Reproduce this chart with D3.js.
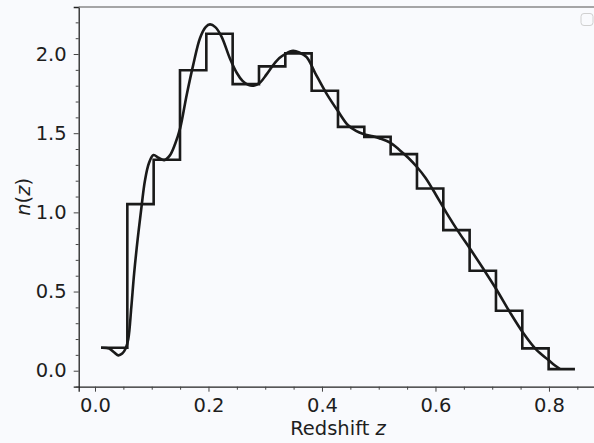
<!DOCTYPE html>
<html>
<head>
<meta charset="utf-8">
<script src="https://cdn.jsdelivr.net/npm/d3@7"></script>
<style>
  body { margin: 0; background: #f9fafd; }
  svg { display: block; font-family: "DejaVu Sans", sans-serif; }
</style>
</head>
<body>
<div id="chart"></div>
<script>
// Histogram bin edges and heights (step outline)
var binEdges = [0.0106, 0.057, 0.1034, 0.1498, 0.1962, 0.2426, 0.289, 0.3354, 0.3818,
                0.4282, 0.4746, 0.521, 0.5674, 0.6138, 0.6602, 0.7066, 0.753, 0.7994, 0.8458];
var binHeights = [0.145, 1.052, 1.332, 1.898, 2.128, 1.81, 1.922, 2.004, 1.768,
                  1.54, 1.477, 1.368, 1.151, 0.888, 0.631, 0.379, 0.141, 0.01];

// Smooth n(z) curve
var curveZ = [0.0106, 0.025, 0.033, 0.041, 0.048, 0.054, 0.0587, 0.064, 0.069, 0.0755,
              0.0823, 0.088, 0.095, 0.103, 0.112, 0.122, 0.132, 0.141, 0.15, 0.1615,
              0.173, 0.185, 0.195, 0.2026, 0.212, 0.223, 0.238, 0.25, 0.26, 0.27,
              0.279, 0.291, 0.302, 0.314, 0.325, 0.335, 0.349, 0.36, 0.373, 0.388,
              0.408, 0.429, 0.446, 0.46, 0.473, 0.49, 0.502, 0.52, 0.537, 0.552,
              0.567, 0.582, 0.596, 0.62, 0.64, 0.661, 0.684, 0.708, 0.731, 0.755,
              0.778, 0.799, 0.81, 0.819];
var curveN = [0.145, 0.14, 0.118, 0.097, 0.108, 0.14, 0.20, 0.40, 0.615, 0.84,
              1.045, 1.2, 1.31, 1.362, 1.345, 1.33, 1.36, 1.43, 1.53, 1.74,
              1.93, 2.10, 2.17, 2.187, 2.17, 2.11, 1.97, 1.88, 1.83, 1.805,
              1.80, 1.82, 1.87, 1.93, 1.975, 2.00, 2.02, 2.01, 1.98, 1.88,
              1.75, 1.635, 1.55, 1.515, 1.495, 1.48, 1.467, 1.44, 1.393, 1.345,
              1.288, 1.22, 1.14, 0.994, 0.88, 0.77, 0.645, 0.51, 0.37, 0.236,
              0.131, 0.068, 0.035, 0.012];

var xMajor = [0.0, 0.2, 0.4, 0.6, 0.8];
var yMajor = [0.0, 0.5, 1.0, 1.5, 2.0];

var width = 594;
var height = 443;

// plot area edges (named so they don't clash with window.top)
var plotLeft = 78.7, plotRight = 599.3, plotTop = 7, plotBottom = 386.7;

var x = d3.scaleLinear().domain([-0.0287, 0.8887]).range([plotLeft, plotRight]);
var y = d3.scaleLinear().domain([-0.101, 2.297]).range([plotBottom, plotTop]);

var svg = d3.select("#chart").append("svg")
    .attr("width", width)
    .attr("height", height);

svg.append("rect")
    .attr("width", width).attr("height", height)
    .attr("fill", "#f9fafd");

// minor ticks
var xMinor = d3.range(0, 0.8887, 0.05).filter(function(d) {
    return Math.abs(d / 0.2 - Math.round(d / 0.2)) > 1e-6;
});
var yMinor = d3.range(-0.1, 2.297, 0.1).filter(function(d) {
    return Math.abs(d / 0.5 - Math.round(d / 0.5)) > 1e-6;
});

// x axis
svg.append("g")
    .attr("transform", "translate(0," + plotBottom + ")")
    .call(d3.axisBottom(x).tickValues(xMajor).tickFormat(d3.format(".1f"))
        .tickSize(5).tickPadding(6));
svg.append("g")
    .attr("transform", "translate(0," + plotBottom + ")")
    .call(d3.axisBottom(x).tickValues(xMinor).tickFormat("").tickSize(3))
    .select(".domain").remove();

// y axis
svg.append("g")
    .attr("transform", "translate(" + plotLeft + ",0)")
    .call(d3.axisLeft(y).tickValues(yMajor).tickFormat(d3.format(".1f"))
        .tickSize(5).tickPadding(7));
svg.append("g")
    .attr("transform", "translate(" + plotLeft + ",0)")
    .call(d3.axisLeft(y).tickValues(yMinor).tickFormat("").tickSize(3))
    .select(".domain").remove();

svg.selectAll(".domain").attr("stroke", "#222").attr("stroke-width", 1.3);
svg.selectAll(".tick line").attr("stroke", "#444").attr("stroke-width", 1);
svg.selectAll(".tick text")
    .attr("fill", "#1e1e1e")
    .style("font-size", "19.5px")
    .style("font-family", "DejaVu Sans, sans-serif");

// top and right spines (light)
svg.append("line")
    .attr("x1", plotLeft).attr("x2", plotRight)
    .attr("y1", plotTop).attr("y2", plotTop)
    .attr("stroke", "#888").attr("stroke-width", 1.3);
svg.append("line")
    .attr("x1", plotRight).attr("x2", plotRight)
    .attr("y1", plotTop).attr("y2", plotBottom)
    .attr("stroke", "#888").attr("stroke-width", 1.3);

// step outline of the histogram
var stepPts = [];
binHeights.forEach(function(h, i) {
    stepPts.push([binEdges[i], h]);
    stepPts.push([binEdges[i + 1], h]);
});

var line = d3.line()
    .x(function(d) { return x(d[0]); })
    .y(function(d) { return y(d[1]); });

var plot = svg.append("g");

plot.append("path")
    .datum(stepPts)
    .attr("d", line)
    .attr("fill", "none")
    .attr("stroke", "#1a1a1a")
    .attr("stroke-width", 2.6)
    .attr("stroke-linejoin", "miter");

// smooth curve
var smooth = d3.line()
    .x(function(d) { return x(d[0]); })
    .y(function(d) { return y(d[1]); })
    .curve(d3.curveCatmullRom.alpha(0.5));

plot.append("path")
    .datum(d3.zip(curveZ, curveN))
    .attr("d", smooth)
    .attr("fill", "none")
    .attr("stroke", "#1a1a1a")
    .attr("stroke-width", 2.6);

// axis labels
var xl = svg.append("text")
    .attr("x", (x(0.0) + x(0.8)) / 2 + 16)
    .attr("y", 435)
    .attr("text-anchor", "middle")
    .attr("fill", "#1e1e1e")
    .style("font-size", "19.5px");
xl.append("tspan").text("Redshift ");
xl.append("tspan").style("font-style", "italic").text("z");

var yl = svg.append("text")
    .attr("transform", "translate(30," + ((plotTop + plotBottom) / 2) + ") rotate(-90)")
    .attr("text-anchor", "middle")
    .attr("fill", "#1e1e1e")
    .style("font-size", "19.5px");
yl.append("tspan").style("font-style", "italic").text("n");
yl.append("tspan").text("(");
yl.append("tspan").style("font-style", "italic").text("z");
yl.append("tspan").text(")");

// empty legend box
svg.append("rect")
    .attr("x", 581).attr("y", 13.5)
    .attr("width", 12).attr("height", 12)
    .attr("rx", 3)
    .attr("fill", "#f9fafd")
    .attr("stroke", "#d0d0d0")
    .attr("stroke-width", 1);
</script>
</body>
</html>
